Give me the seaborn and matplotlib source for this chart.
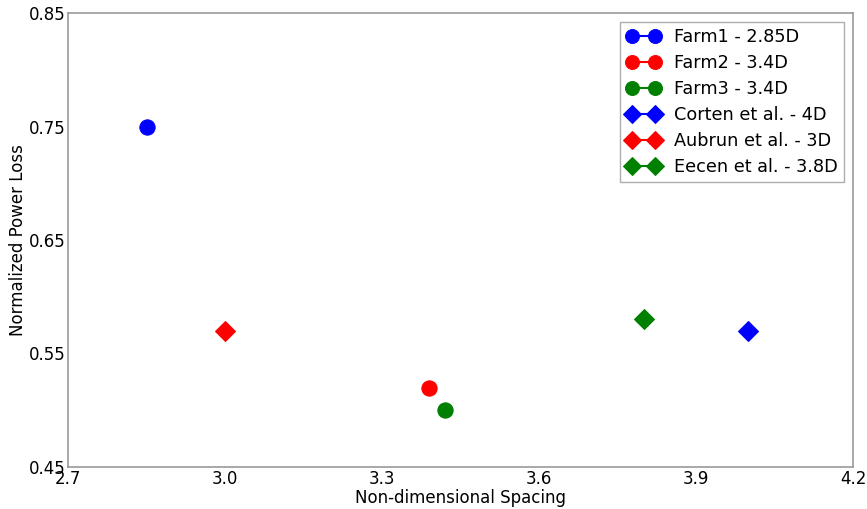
import matplotlib
matplotlib.use("Agg")
import matplotlib.pyplot as plt
import seaborn as sns

labels = ["Farm1 - 2.85D", "Farm2 - 3.4D", "Farm3 - 3.4D",
          "Corten et al. - 4D", "Aubrun et al. - 3D", "Eecen et al. - 3.8D"]
spacing = [2.85, 3.39, 3.42, 4.0, 3.0, 3.8]
power_loss = [0.75, 0.52, 0.50, 0.57, 0.57, 0.58]
colors = ["#0000ff", "#ff0000", "#008000", "#0000ff", "#ff0000", "#008000"]
markers = ["o", "o", "o", "D", "D", "D"]
xticks = [2.7, 3.0, 3.3, 3.6, 3.9, 4.2]
yticks = [0.45, 0.55, 0.65, 0.75, 0.85]

sns.set_style("white")
plt.rcParams['font.family'] = ['DejaVu Sans']
plt.rcParams['text.color'] = 'black'
plt.rcParams['axes.labelcolor'] = 'black'

fig = plt.figure(figsize=(8.67, 5.09), dpi=100)
ax = fig.add_axes([68/867, 42/509, (853-68)/867, (467-13)/509])

for lab, x, y, c, m in zip(labels, spacing, power_loss, colors, markers):
    sns.lineplot(x=[x], y=[y], ax=ax, color=c, marker=m,
                 markersize=11 if m == "o" else 10, markeredgecolor=c,
                 linewidth=1.5, label=lab)

ax.set_xlim(2.7, 4.2)
ax.set_ylim(0.45, 0.85)
ax.set_xticks(xticks)
ax.set_xticklabels([f"{t:.1f}" for t in xticks])
ax.set_yticks(yticks)
ax.set_yticklabels([f"{t:.2f}" for t in yticks])
ax.tick_params(direction="in", length=4, labelsize=12, color="#999999",
               labelcolor="black", pad=2)
for s in ax.spines.values():
    s.set_color("#999999")
    s.set_linewidth(1.2)
ax.set_xlabel("Non-dimensional Spacing", fontsize=12, labelpad=1)
ax.set_ylabel("Normalized Power Loss", fontsize=12, labelpad=1)

leg = ax.legend(loc="upper right", numpoints=2, fontsize=12.7, frameon=True,
                fancybox=False, borderaxespad=0.5, handlelength=1.9,
                labelspacing=0.45, borderpad=0.35, handletextpad=0.8)
leg.get_frame().set_edgecolor("#999999")
leg.get_frame().set_linewidth(1.0)
for h in leg.legend_handles:
    h.set_markersize(10 if h.get_marker() == "o" else 9.5)

fig.savefig("out.png", dpi=100)
